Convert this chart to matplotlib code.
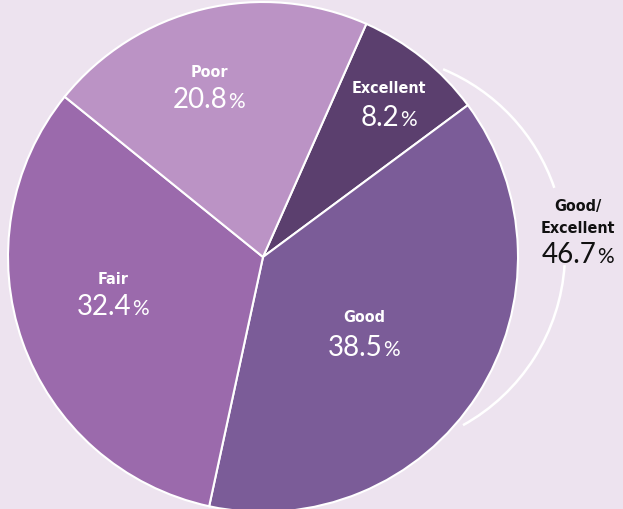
import matplotlib
matplotlib.use("Agg")
import matplotlib.pyplot as plt
from matplotlib.patches import Arc

categories = ["Excellent", "Good", "Fair", "Poor"]
values = [8.2, 38.5, 32.4, 20.8]
colors = ["#5b3f6e", "#7b5c98", "#9b6aac", "#bb93c5"]
combined_label = ["Good/", "Excellent"]
combined_value = 46.7

BG = "#ede3ef"
W, H = 623, 509
fig = plt.figure(figsize=(W / 100, H / 100), dpi=100, facecolor=BG)
ax = fig.add_axes([0, 0, 1, 1])
ax.set_facecolor(BG)

cx, cy, r = 263, H - 257, 255
ax.pie(values, colors=colors, startangle=66.1, counterclock=False,
       center=(cx, cy), radius=r, frame=True,
       wedgeprops=dict(edgecolor="white", linewidth=1.5))
ax.set_xlim(0, W)
ax.set_ylim(0, H)
ax.set_aspect("equal")
ax.axis("off")

# arc around Good/Excellent
acx, acy, ar = 367, H - 252, 198
for t1, t2 in [(-61, -3.8), (18.9, 67.4)]:
    ax.add_patch(Arc((acx, acy), 2 * ar, 2 * ar, theta1=t1, theta2=t2,
                     color="white", lw=1.8))

name_font = dict(family=["DejaVu Sans"], stretch="condensed", weight="bold")
num_font = dict(family=["Lato", "DejaVu Sans"], weight="normal")

fig.canvas.draw()
renderer = fig.canvas.get_renderer()


def pct_text(x, y, val, color):
    s = f"{val:.1f}"
    t1 = ax.text(0, 0, s, fontsize=20, color=color, ha="left", va="baseline", **num_font)
    t2 = ax.text(0, 0, "%", fontsize=15, color=color, ha="left", va="baseline", **num_font)
    w1 = t1.get_window_extent(renderer).width
    w2 = t2.get_window_extent(renderer).width
    gap = 0.5
    x0 = x - (w1 + w2 + gap) / 2
    t1.set_position((x0, y))
    t2.set_position((x0 + w1 + gap, y))


label_pos = {"Excellent": (389, 88, 126), "Good": (364, 318, 356),
             "Fair": (113, 279, 315), "Poor": (209, 72, 108)}
for cat, val in zip(categories, values):
    x, yn, yp = label_pos[cat]
    ax.text(x, H - yn, cat, fontsize=11.5, color="white", ha="center",
            va="center", **name_font)
    pct_text(x, H - yp, val, "white")

for txt, yy in zip(combined_label, [206, 228]):
    ax.text(578, H - yy, txt, fontsize=11.5, color="#111111",
            ha="center", va="center", **name_font)
pct_text(578, H - 263, combined_value, "#111111")

fig.savefig("out.png", dpi=100, facecolor=BG)
